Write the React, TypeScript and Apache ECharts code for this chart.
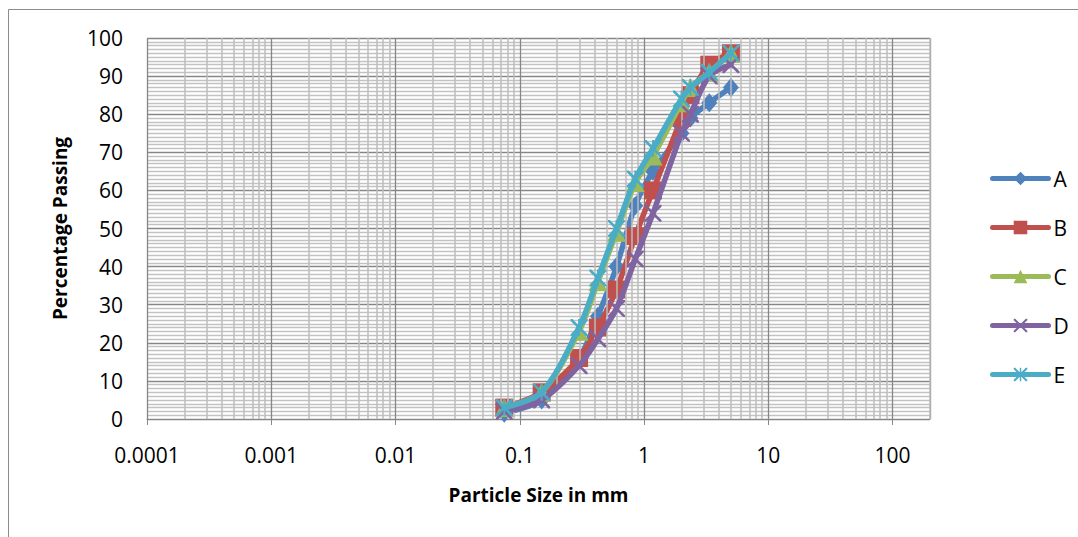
import React, { useEffect, useRef } from "react";
import * as echarts from "echarts";

// Sieve sizes (mm) and percentage passing per sample
const sizes = [0.075, 0.15, 0.3, 0.425, 0.6, 0.85, 1.18, 2, 2.36, 3.35, 5];
const passA = [1.5, 5, 16, 27, 40, 56, 65, 75, 79, 83, 87];
const passB = [3, 7, 16, 24, 34, 48, 60, 79, 85, 93, 96];
const passC = [3, 7, 23, 36, 49, 62, 69, 83, 87, 91, 96];
const passD = [2, 5, 14, 21, 29, 42, 54, 75, 80, 90, 93];
const passE = [3, 7, 24, 37, 50, 63, 71, 84, 87, 91, 96];
const seriesNames = ["A", "B", "C", "D", "E"];
const xTickLabels = ["0.0001", "0.001", "0.01", "0.1", "1", "10", "100"];
const xMinExp = -4;
const xMax = 200;

const colors = ["#4F81BD", "#C0504D", "#9BBB59", "#8064A2", "#4BACC6"];
const FONT = "Open Sans";

const xPath =
  "path://M0,0 L2.2,0 L10,7.8 L17.8,0 L20,0 L20,2.2 L12.2,10 L20,17.8 L20,20 L17.8,20 L10,12.2 L2.2,20 L0,20 L0,17.8 L7.8,10 L0,2.2 Z";
const starPath =
  "path://M0,0 L2.2,0 L10,7.8 L17.8,0 L20,0 L20,2.2 L12.2,10 L20,17.8 L20,20 L17.8,20 L10,12.2 L2.2,20 L0,20 L0,17.8 L7.8,10 L0,2.2 Z M8.9,0 L11.1,0 L11.1,20 L8.9,20 Z";

export default function App() {
  const ref = useRef<HTMLDivElement>(null);
  useEffect(() => {
    if (!ref.current) return;
    const chart = echarts.init(ref.current, null, { renderer: "svg" });
    const all = [passA, passB, passC, passD, passE];
    const symbols: any[] = ["diamond", "rect", "triangle", xPath, starPath];
    const symSizes: any[] = [[16, 19], 18, 19, 17, 17];

    const minorXs: number[] = [];
    for (let e = xMinExp; e <= 1; e++) {
      for (let k = 2; k <= 9; k++) minorXs.push(e + Math.log10(k));
    }
    minorXs.push(Math.log10(xMax));

    const dataSeries = all.map((vals, i) => ({
      name: seriesNames[i],
      type: "line",
      data: sizes.map((s, j) => [Math.log10(s), vals[j]]),
      smooth: 0.3,
      symbol: symbols[i],
      symbolSize: symSizes[i],
      showAllSymbol: true,
      z: 3 + i,
      lineStyle: { color: colors[i], width: 5.5, cap: "round", join: "round" },
      itemStyle: { color: colors[i] },
      emphasis: { disabled: true },
    }));

    chart.setOption({
      animation: false,
      backgroundColor: "#ffffff",
      grid: { left: 147, right: 148, top: 38, bottom: 118, containLabel: false },
      graphic: [
        {
          type: "rect",
          shape: { x: 8.5, y: 9.5, width: 2000, height: 2000 },
          style: { fill: "none", stroke: "#8c8c8c", lineWidth: 1 },
          silent: true,
          z: -10,
        },
      ],
      legend: {
        data: seriesNames,
        orient: "vertical",
        left: 985,
        top: 163,
        itemWidth: 56,
        itemHeight: 17,
        itemGap: 28,
        lineStyle: { width: 5, cap: "round" },
        textStyle: { fontFamily: FONT, fontSize: 21, color: "#000" },
      },
      xAxis: {
        type: "value",
        min: xMinExp,
        max: Math.log10(xMax),
        interval: 1,
        name: "Particle Size in mm",
        nameLocation: "middle",
        nameGap: 66,
        nameTextStyle: { fontFamily: FONT, fontSize: 19, fontWeight: "bold", color: "#000" },
        axisLine: { show: true, lineStyle: { color: "#868686", width: 1 } },
        axisTick: { show: true, length: 6, lineStyle: { color: "#868686" } },
        axisLabel: {
          fontFamily: FONT,
          fontSize: 21,
          color: "#000",
          margin: 25,
          showMaxLabel: false,
          formatter: (v: number) => {
            const idx = Math.round(v) - xMinExp;
            return xTickLabels[idx] ?? "";
          },
        },
        splitLine: { show: true, lineStyle: { color: "#868686", width: 1.3 } },
      },
      yAxis: {
        type: "value",
        min: 0,
        max: 100,
        interval: 10,
        name: "Percentage Passing",
        nameLocation: "middle",
        nameGap: 78,
        nameTextStyle: { fontFamily: FONT, fontSize: 19, fontWeight: "bold", color: "#000" },
        axisLine: { show: true, lineStyle: { color: "#868686", width: 1 } },
        axisTick: { show: true, length: 7, lineStyle: { color: "#868686" } },
        axisLabel: { fontFamily: FONT, fontSize: 21, color: "#000", margin: 24 },
        splitLine: { show: true, lineStyle: { color: "#868686", width: 1.3 } },
        minorTick: { show: false, splitNumber: 10 },
        minorSplitLine: { show: true, lineStyle: { color: "#c2c2c2", width: 1.4 } },
      },
      series: [
        {
          name: "grid-minor",
          type: "line",
          data: [],
          silent: true,
          z: 1,
          markLine: {
            silent: true,
            symbol: ["none", "none"],
            label: { show: false },
            animation: false,
            lineStyle: { type: "solid", color: "#bcbcbc", width: 1.5 },
            emphasis: { disabled: true },
            data: minorXs.map((v) => ({ xAxis: v })),
          },
        },
        ...dataSeries,
      ],
    });
    return () => chart.dispose();
  }, []);
  return (
    <div
      ref={ref}
      style={{ position: "absolute", left: 0, top: 0, width: 1078, height: 537 }}
    />
  );
}
